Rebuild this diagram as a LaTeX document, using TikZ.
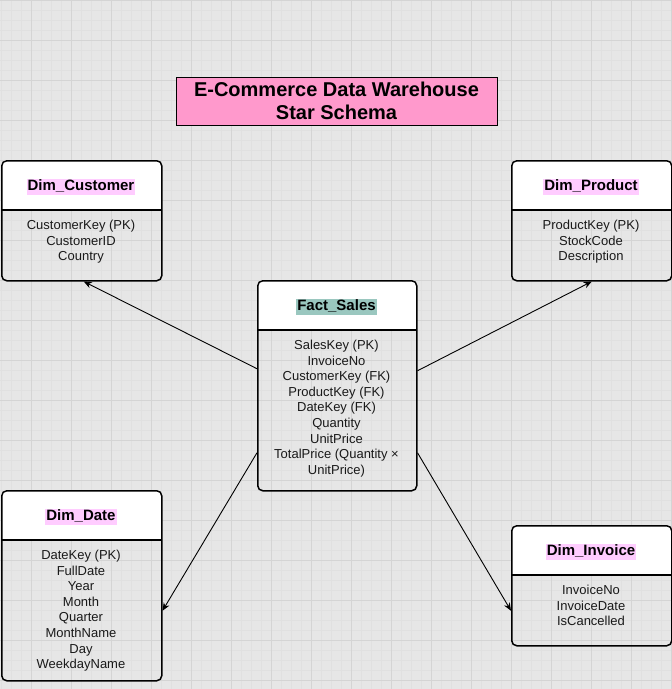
\documentclass[tikz,border=0pt]{standalone}
\usepackage{fontspec}
\setmainfont{Liberation Sans}
\usetikzlibrary{arrows.meta}
\definecolor{bggray}{HTML}{E6E6E6}
\definecolor{gridminor}{HTML}{E0E0E0}
\definecolor{gridmajor}{HTML}{D4D4D4}
\definecolor{titlepink}{HTML}{FF99CC}
\definecolor{hlpink}{HTML}{FFCCFF}
\definecolor{hlteal}{HTML}{9AC7BF}
\tikzset{
  tblbox/.style={draw=black, line width=1.5pt, rounded corners=5pt, inner sep=0pt, anchor=north west},
  sepline/.style={draw=black, line width=1.3pt},
  tbltitle/.style={font=\fontsize{15}{17}\selectfont\bfseries, inner xsep=1pt, inner ysep=0pt, text height=12pt, text depth=4.5pt},
  tblbody/.style={font=\fontsize{13}{15.6}\selectfont, align=center, inner sep=0pt, anchor=north, text=black!90},
  conn/.style={draw=black, line width=0.9pt, -{Stealth[length=8pt,width=6.5pt]}},
  titlebox/.style={draw=black, line width=1pt, fill=titlepink, minimum width=321pt, minimum height=48pt, align=center, font=\fontsize{20}{23}\selectfont\bfseries, inner sep=0pt},
  minorline/.style={draw=gridminor, line width=1pt},
  majorline/.style={draw=gridmajor, line width=1pt},
}
\newcommand{\dbtable}[8]{%
  \fill[white, rounded corners=5pt] (#2,#3) rectangle (#2+#4,#3+50);
  \fill[white] (#2,#3+25) rectangle (#2+#4,#3+50);
  \node[tblbox, minimum width=#4pt, minimum height=#5pt] (#1) at (#2,#3) {};
  \draw[sepline] (#2,#3+50) -- (#2+#4,#3+50);
  \node[tbltitle, fill=#7] (#1-title) at (#2+#4/2,#3+27) {#6};
  \node[tblbody] (#1-body) at (#2+#4/2,#3+59.8) {#8};
}
\begin{document}
\begin{tikzpicture}[x=1pt,y=-1pt]
\useasboundingbox (0,0) rectangle (672,689);
\fill[bggray] (0,0) rectangle (672,689);
\foreach \i in {0,...,67} \draw[minorline] (1.5+10*\i,0) -- (1.5+10*\i,689);
\foreach \i in {0,...,68} \draw[minorline] (0,0.7+10*\i) -- (672,0.7+10*\i);
\foreach \i in {0,...,16} \draw[majorline] (31.5+40*\i,0) -- (31.5+40*\i,689);
\foreach \i in {0,...,17} \draw[majorline] (0,0.7+40*\i) -- (672,0.7+40*\i);

\node[titlebox] (title) at (336.5,101) {E-Commerce Data Warehouse\\Star Schema};

\dbtable{cust}{1}{160}{160}{120}{Dim\_Customer}{hlpink}{CustomerKey (PK)\\CustomerID\\Country}
\dbtable{prod}{511}{160}{160}{120}{Dim\_Product}{hlpink}{ProductKey (PK)\\StockCode\\Description}
\dbtable{fact}{257}{280}{159}{210}{Fact\_Sales}{hlteal}{SalesKey (PK)\\InvoiceNo\\CustomerKey (FK)\\ProductKey (FK)\\DateKey (FK)\\Quantity\\UnitPrice\\TotalPrice (Quantity ×\\UnitPrice)}
\dbtable{date}{1}{490}{160}{190}{Dim\_Date}{hlpink}{DateKey (PK)\\FullDate\\Year\\Month\\Quarter\\MonthName\\Day\\WeekdayName}
\dbtable{inv}{511}{525}{160}{120}{Dim\_Invoice}{hlpink}{InvoiceNo\\InvoiceDate\\IsCancelled}

\draw[conn] ([yshift=17pt]fact.west) -- ([xshift=2pt]cust.south);
\draw[conn] ([yshift=15pt]fact.east) -- (prod.south);
\draw[conn] ([yshift=-67pt]fact.west) -- ([yshift=-25pt]date.east);
\draw[conn] ([yshift=-67pt]fact.east) -- ([yshift=-25pt]inv.west);
\end{tikzpicture}
\end{document}
